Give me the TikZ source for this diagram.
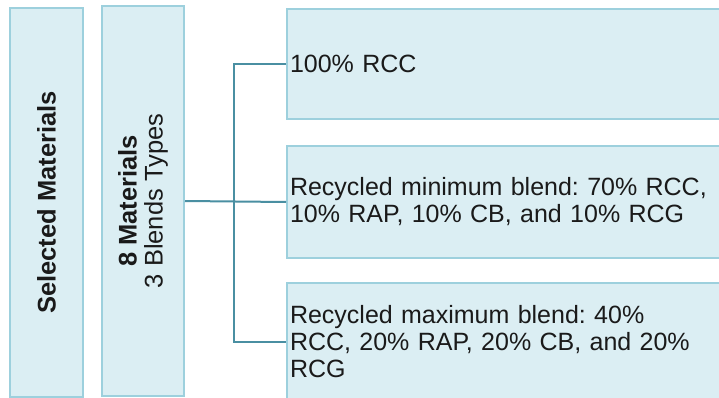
\documentclass[tikz,border=0pt]{standalone}
\usepackage{fontspec}
\setmainfont{Liberation Sans}
\frenchspacing
\definecolor{fillcol}{HTML}{DBEEF3}
\definecolor{bordercol}{HTML}{9DD0DD}
\definecolor{conncol}{HTML}{4A8FA2}
\definecolor{txtcol}{HTML}{1A1A1A}
\tikzset{
  box/.style={draw=bordercol, fill=fillcol, line width=2pt, inner sep=0pt, text=txtcol,
    font=\fontsize{25.5}{26}\selectfont},
  vbox/.style={box, rotate=90, align=center},
  rbox/.style={box, anchor=north west, minimum height=110pt, text width=450pt, align=left,
    inner xsep=3pt, font=\fontsize{25}{27}\selectfont},
  conn/.style={draw=conncol, line width=2pt}
}
\begin{document}
\begin{tikzpicture}[x=1pt,y=-1pt]
\clip (0,0) rectangle (719,398);
\fill[white] (0,0) rectangle (719,398);
% left vertical boxes
\node[vbox, minimum width=389pt, minimum height=73pt] (sel) at (46.5,202.5) {\bfseries Selected Materials};
\node[vbox, minimum width=389pt, minimum height=82pt] (mat) at (143,201) {\textbf{8 Materials}\\3 Blends Types};
% right boxes
\node[rbox] (ra) at (286,8) {100\% RCC};
\node[rbox, minimum height=111pt] (rb) at (286,145.5) {Recycled minimum blend: 70\% RCC,\\10\% RAP, 10\% CB, and 10\% RCG};
\node[rbox, minimum height=118pt] (rc) at (286,282) {Recycled maximum blend: 40\%\\RCC, 20\% RAP, 20\% CB, and 20\%\\RCG};
% connectors
\coordinate (j) at (234,201);
\draw[conn] (mat.south) -- (rb.west);
\draw[conn] (ra.west) -- (ra.west -| j) -- (rc.west -| j) -- (rc.west);
\end{tikzpicture}
\end{document}
